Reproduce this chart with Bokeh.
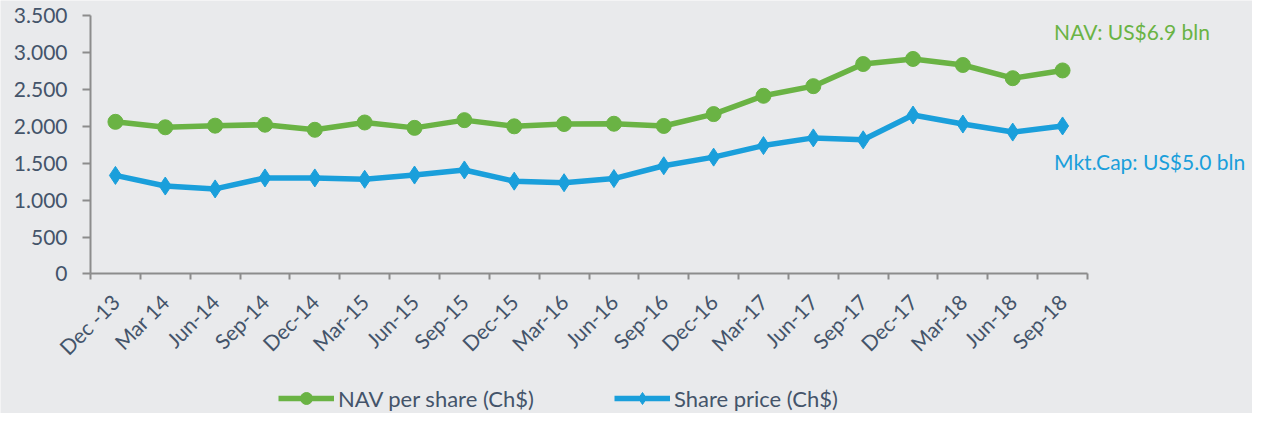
import math
from bokeh.plotting import figure
from bokeh.models import (ColumnDataSource, FixedTicker, Range1d, Label, Legend, LegendItem)
from bokeh.embed import file_html
from bokeh.resources import INLINE

categories = ["Dec -13", "Mar 14", "Jun-14", "Sep-14", "Dec-14", "Mar-15", "Jun-15", "Sep-15",
              "Dec-15", "Mar-16", "Jun-16", "Sep-16", "Dec-16", "Mar-17", "Jun-17", "Sep-17",
              "Dec-17", "Mar-18", "Jun-18", "Sep-18"]
nav = [2063, 1989, 2011, 2024, 1955, 2054, 1981, 2086, 2002, 2033, 2037, 2007, 2168, 2416,
       2547, 2847, 2916, 2834, 2655, 2760]
price = [1336, 1192, 1153, 1302, 1302, 1284, 1341, 1410, 1258, 1237, 1293, 1467, 1584, 1741,
         1845, 1819, 2155, 2033, 1924, 2007]
y_ticks = [0, 500, 1000, 1500, 2000, 2500, 3000, 3500]
y_tick_labels = ["0", "500", "1.000", "1.500", "2.000", "2.500", "3.000", "3.500"]
nav_note = "NAV: US$6.9 bln"
cap_note = "Mkt.Cap: US$5.0 bln"
nav_name = "NAV per share (Ch$)"
price_name = "Share price (Ch$)"

GREEN = "#6ab344"
BLUE = "#1a9fdb"
TEXT = "#44546a"
BG = "#e9eaec"
AXIS = "#8c8c8c"
FONT = "Lato"

N = len(categories)
xs = [i + 0.5 for i in range(N)]
src = ColumnDataSource(dict(x=xs, nav=nav, price=price))

# layout geometry (screen pixels)
W, H = 1252, 413
AXIS_X = 90.0          # y-axis position
PX_PER_CAT = 49.85
Y_TOP_PX = 15.4        # pixel of 3500
Y_ZERO_PX = 273.4      # pixel of 0
PX_PER_UNIT = (Y_ZERO_PX - Y_TOP_PX) / 3500

x_start = -AXIS_X / PX_PER_CAT
x_end = (W - AXIS_X) / PX_PER_CAT
y_end = 3500 + Y_TOP_PX / PX_PER_UNIT
y_start = -(H - Y_ZERO_PX) / PX_PER_UNIT

p = figure(width=W, height=H, output_backend="svg", toolbar_location=None,
           x_range=Range1d(x_start, x_end), y_range=Range1d(y_start, y_end),
           min_border_left=0, min_border_right=0, min_border_top=0, min_border_bottom=0)
p.background_fill_color = BG
p.border_fill_color = BG
p.outline_line_color = None
p.grid.visible = False

l1 = p.line("x", "nav", source=src, line_color=GREEN, line_width=5.5)
s1 = p.scatter("x", "nav", source=src, marker="circle", size=15, fill_color=GREEN, line_color=GREEN)
l2 = p.line("x", "price", source=src, line_color=BLUE, line_width=5.5)
s2 = p.scatter("x", "price", source=src, marker="diamond", size=18, fill_color=BLUE, line_color=BLUE)

# x axis
xa = p.xaxis[0]
xa.fixed_location = 0
xa.bounds = (0, N)
xa.ticker = FixedTicker(ticks=xs, minor_ticks=list(range(N + 1)))
xa.major_label_overrides = {x: c for x, c in zip(xs, categories)}
xa.major_label_orientation = math.pi / 4
xa.major_tick_out = 0
xa.major_tick_in = 0
xa.minor_tick_out = 6
xa.minor_tick_in = 0
xa.minor_tick_line_color = AXIS
xa.minor_tick_line_width = 2
xa.axis_line_color = AXIS
xa.axis_line_width = 2
xa.major_label_text_font = FONT
xa.major_label_text_font_size = "21px"
xa.major_label_text_color = TEXT
xa.major_label_standoff = 18

ya = p.yaxis[0]
ya.fixed_location = 0
ya.bounds = (0, 3500)
ya.ticker = FixedTicker(ticks=y_ticks)
ya.major_label_overrides = {t: s for t, s in zip(y_ticks, y_tick_labels)}
ya.major_tick_out = 8
ya.major_tick_in = 0
ya.minor_tick_line_color = None
ya.major_tick_line_color = AXIS
ya.major_tick_line_width = 2
ya.axis_line_color = AXIS
ya.axis_line_width = 2
ya.major_label_text_font = FONT
ya.major_label_text_font_size = "21px"
ya.major_label_text_color = TEXT
ya.major_label_standoff = 15

p.add_layout(Label(x=19.33, y=3290, text=nav_note, text_color=GREEN, text_font=FONT,
                   text_font_size="21px", text_baseline="middle", text_align="left"))
p.add_layout(Label(x=19.33, y=1530, text=cap_note, text_color=BLUE, text_font=FONT,
                   text_font_size="21px", text_baseline="middle", text_align="left"))

legend = Legend(items=[LegendItem(label=nav_name, renderers=[l1, s1]),
                       LegendItem(label=price_name, renderers=[l2, s2])],
                orientation="horizontal", location=(278, 0),
                background_fill_alpha=0, border_line_color=None,
                label_text_font=FONT, label_text_font_size="22px", label_text_color=TEXT,
                glyph_width=56, glyph_height=30, spacing=80, padding=0, margin=0,
                label_standoff=4)
p.add_layout(legend)

open("out.html", "w").write(file_html(p, INLINE))
